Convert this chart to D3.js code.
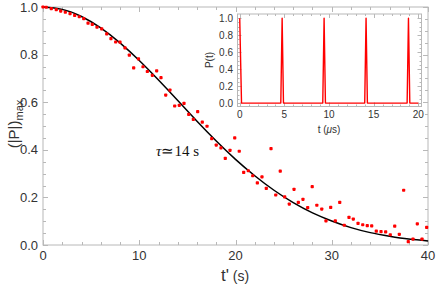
<!DOCTYPE html>
<html>
<head>
<meta charset="utf-8">
<script src="https://cdn.jsdelivr.net/npm/d3@7"></script>
<style>
  body { margin: 0; background: #fff; }
  svg { display: block; }
  .tk { font-family: "Liberation Sans", Arial, sans-serif; fill: #333; }
</style>
</head>
<body>
<div id="chart"></div>
<script>
/************************************ Data *******************************/
// measured points, t' (s) and (|P|)max
var ptT = [0, 0.34, 0.86, 1.38, 1.84, 2.32, 2.81, 3.29, 3.77, 4.23, 4.68, 5.12, 5.61, 6.10, 6.62, 7.06, 7.55, 8.00, 8.52, 8.97,
           9.42, 9.92, 10.39, 10.84, 11.36, 11.81, 12.26, 12.75, 13.19, 13.68, 14.16, 14.65, 15.14, 15.62, 16.07, 16.55, 17.04, 17.53, 18.0, 18.49,
           18.94, 19.43, 19.92, 20.39, 20.85, 21.33, 21.79, 22.27, 22.75, 23.2, 23.69, 24.18, 24.65, 25.11, 25.59, 26.08, 26.53, 27.01, 27.5, 27.97,
           28.45, 28.96, 29.4, 29.89, 30.37, 30.83, 31.3, 31.79, 32.24, 32.73, 33.22, 33.69, 34.15, 34.63, 35.12, 35.6, 36.08, 36.54, 37.02, 37.47,
           37.95, 38.44, 38.89, 39.38, 39.86];
var ptP = [1.000, 0.999, 0.993, 0.989, 0.983, 0.978, 0.972, 0.965, 0.959, 0.951, 0.932, 0.927, 0.915, 0.908, 0.887, 0.867, 0.853, 0.852, 0.828, 0.798,
           0.744, 0.782, 0.749, 0.729, 0.713, 0.732, 0.703, 0.630, 0.651, 0.584, 0.587, 0.595, 0.549, 0.528, 0.560, 0.516, 0.499, 0.447, 0.420, 0.408,
           0.364, 0.398, 0.450, 0.394, 0.305, 0.312, 0.291, 0.261, 0.286, 0.238, 0.405, 0.210, 0.310, 0.202, 0.172, 0.234, 0.179, 0.192, 0.157, 0.245,
           0.167, 0.151, 0.101, 0.158, 0.101, 0.179, 0.083, 0.116, 0.109, 0.091, 0.085, 0.081, 0.080, 0.058, 0.056, 0.055, 0.043, 0.079, 0.045, 0.230,
           0.014, 0.025, 0.089, 0.025, 0.074];

// fitted curve, tau ~ 14 s
var fitT = [0, 2, 4, 6, 8, 10, 12, 14, 16, 18, 20, 22, 24, 26, 28, 30, 32, 34, 36, 38, 40];
var fitP = [1, 0.990, 0.960, 0.912, 0.849, 0.775, 0.693, 0.607, 0.520, 0.437, 0.360, 0.291, 0.230, 0.178, 0.135, 0.101, 0.073, 0.052, 0.037, 0.025, 0.017];

// inset P(t), t in microseconds
var inT = [0, 0.2, 4.6, 4.75, 4.9, 9.3, 9.45, 9.6, 14.0, 14.15, 14.3, 18.75, 18.9, 19.05, 20];
var inP = [1, 0, 0, 1, 0, 0, 1, 0, 0, 1, 0, 0, 1, 0, 0];

var xTicks = [0, 10, 20, 30, 40];
var yTicks = [0, 0.2, 0.4, 0.6, 0.8, 1.0];
var inXTicks = [0, 5, 10, 15, 20];
var inYTicks = [0, 0.2, 0.4, 0.6, 0.8, 1.0];

/************************************ Chart *******************************/
var W = 436, H = 284;
var frameCol = "#b8b8b8";

var svg = d3.select("#chart").append("svg").attr("width", W).attr("height", H);

// draws a gray frame with inward ticks on all sides
function frame(g, x, y, xt, yt, xmin, ymin, maj, mnr) {
	var x0 = x.range()[0], x1 = x.range()[1], y0 = y.range()[0], y1 = y.range()[1];
	g.append("rect").attr("x", x0).attr("y", y1).attr("width", x1 - x0).attr("height", y0 - y1)
		.attr("fill", "none").attr("stroke", frameCol).attr("stroke-width", 1);
	var mk = function(list, len, isX) {
		list.forEach(function(v) {
			if (isX) {
				var p = Math.round(x(v)) + 0.5;
				g.append("line").attr("x1", p).attr("x2", p).attr("y1", y0).attr("y2", y0 - len).attr("stroke", frameCol);
				g.append("line").attr("x1", p).attr("x2", p).attr("y1", y1).attr("y2", y1 + len).attr("stroke", frameCol);
			} else {
				var q = Math.round(y(v)) + 0.5;
				g.append("line").attr("y1", q).attr("y2", q).attr("x1", x0).attr("x2", x0 + len).attr("stroke", frameCol);
				g.append("line").attr("y1", q).attr("y2", q).attr("x1", x1).attr("x2", x1 - len).attr("stroke", frameCol);
			}
		});
	};
	mk(xt, maj, true); mk(xmin, mnr, true);
	mk(yt, maj, false); mk(ymin, mnr, false);
}

// main panel
var x = d3.scaleLinear().domain([0, 40]).range([43, 428]);
var y = d3.scaleLinear().domain([0, 1]).range([245, 7]);

var main = svg.append("g");
frame(main, x, y, xTicks, yTicks, d3.range(0, 40.01, 2), d3.range(0, 1.001, 0.05), 5, 3);

main.selectAll(".xl").data(xTicks).enter().append("text").attr("class", "tk")
	.attr("x", function(d) { return x(d); }).attr("y", 260)
	.attr("text-anchor", "middle").attr("font-size", 13).text(function(d) { return d; });
main.selectAll(".yl").data(yTicks).enter().append("text").attr("class", "tk")
	.attr("x", 38).attr("y", function(d) { return y(d) + 4.5; })
	.attr("text-anchor", "end").attr("font-size", 13).text(function(d) { return d.toFixed(1); });

// axis titles
var yt = main.append("text").attr("class", "tk").attr("font-size", 15)
	.attr("transform", "translate(19,124) rotate(-90)").attr("text-anchor", "middle");
yt.append("tspan").text("(|P|)");
yt.append("tspan").attr("font-size", 11).attr("dy", 4).text("max");

var xt = main.append("text").attr("class", "tk").attr("x", 235).attr("y", 281).attr("text-anchor", "middle");
xt.append("tspan").attr("font-size", 17).text("t'");
xt.append("tspan").attr("font-size", 14).text(" (s)");

// fit
var line = d3.line().x(function(d, i) { return x(fitT[i]); }).y(function(d) { return y(d); }).curve(d3.curveNatural);
main.append("path").attr("d", line(fitP)).attr("fill", "none").attr("stroke", "#000").attr("stroke-width", 1.5);

// points
main.selectAll(".pt").data(ptP).enter().append("rect")
	.attr("x", function(d, i) { return x(ptT[i]) - 1.6; })
	.attr("y", function(d) { return y(d) - 1.6; })
	.attr("width", 3.2).attr("height", 3.2).attr("rx", 0.8)
	.attr("fill", "#f00");

main.append("text").attr("x", 156).attr("y", 156).attr("font-family", "'Liberation Serif', 'Times New Roman', serif")
	.attr("font-size", 15).attr("fill", "#111")
	.html('<tspan font-style="italic">τ</tspan>≃14 s');

// inset
var xi = d3.scaleLinear().domain([-0.25, 20.36]).range([237.5, 421.5]);
var yi = d3.scaleLinear().domain([-0.04, 1.05]).range([106.5, 14]);

var ins = svg.append("g");
ins.append("rect").attr("x", 237.5).attr("y", 14).attr("width", 184).attr("height", 92.5).attr("fill", "#fff");
frame(ins, xi, yi, inXTicks, inYTicks, d3.range(0, 20.01, 1), d3.range(0, 1.001, 0.05), 4, 2);

ins.selectAll(".xl").data(inXTicks).enter().append("text").attr("class", "tk")
	.attr("x", function(d) { return xi(d); }).attr("y", 118)
	.attr("text-anchor", "middle").attr("font-size", 10).text(function(d) { return d; });
ins.selectAll(".yl").data(inYTicks).enter().append("text").attr("class", "tk")
	.attr("x", 233).attr("y", function(d) { return yi(d) + 3.5; })
	.attr("text-anchor", "end").attr("font-size", 10).text(function(d) { return d.toFixed(1); });

ins.append("text").attr("class", "tk").attr("font-size", 10)
	.attr("transform", "translate(213,60) rotate(-90)").attr("text-anchor", "middle").text("P(t)");
ins.append("text").attr("class", "tk").attr("font-size", 10).attr("x", 329).attr("y", 133).attr("text-anchor", "middle")
	.html('t (<tspan font-style="italic">μ</tspan>s)');

var iline = d3.line().x(function(d, i) { return xi(inT[i]); }).y(function(d) { return yi(d); });
ins.append("path").attr("d", iline(inP)).attr("fill", "none").attr("stroke", "#f00").attr("stroke-width", 1.4)
	.attr("stroke-linejoin", "round");
</script>
</body>
</html>
